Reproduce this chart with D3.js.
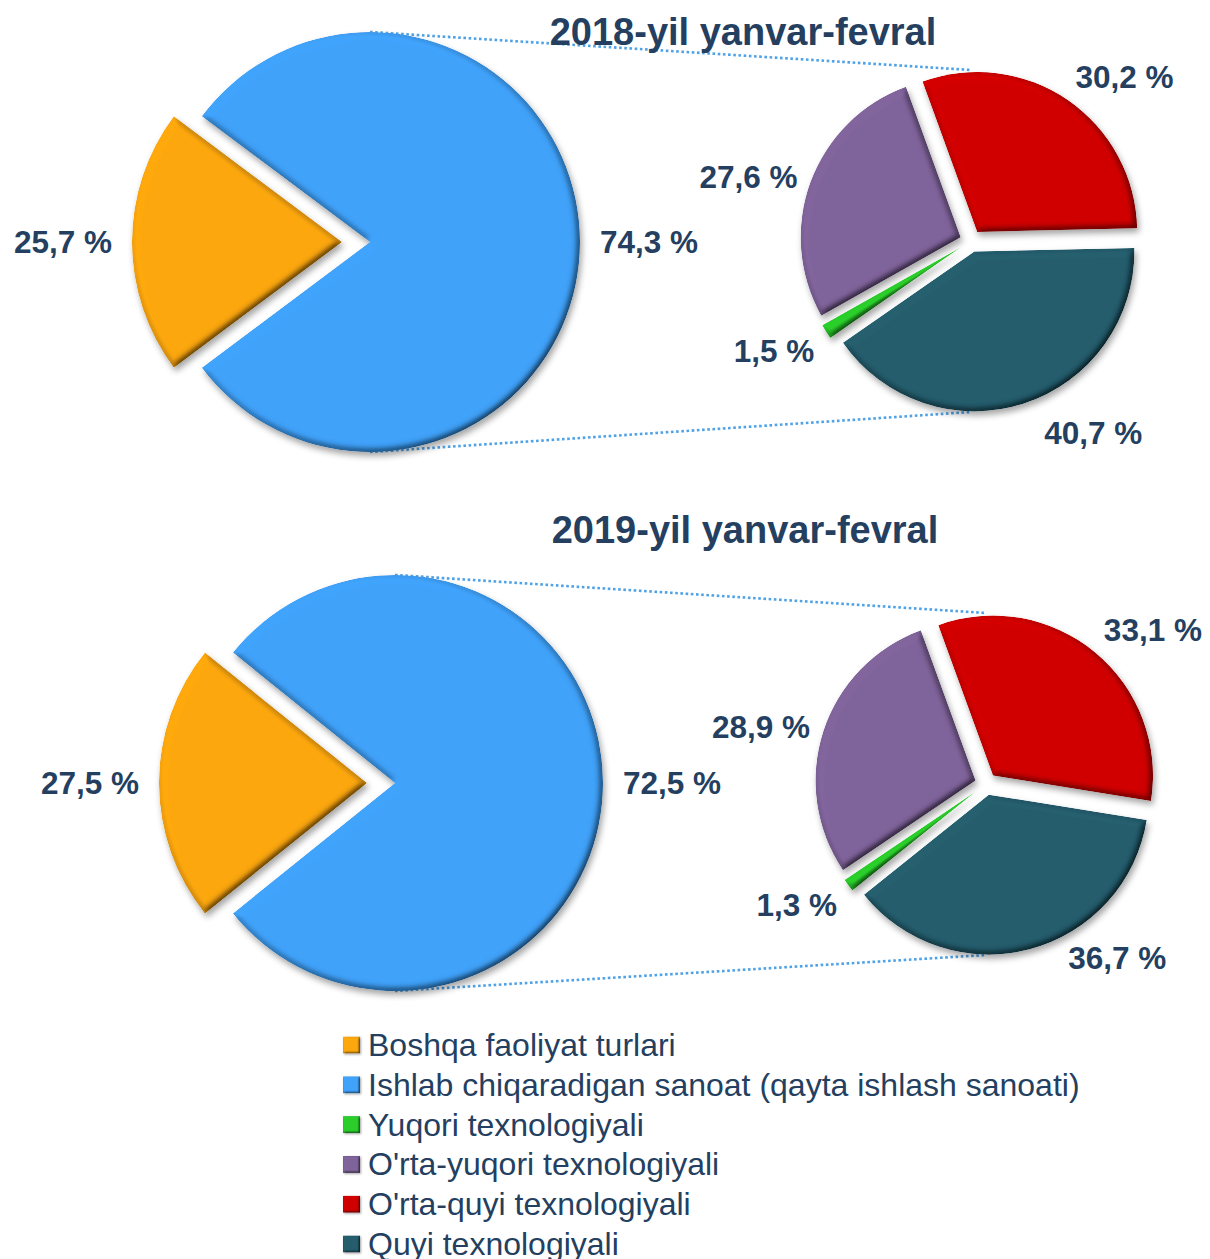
<!DOCTYPE html>
<html>
<head>
<meta charset="utf-8">
<script src="https://cdn.jsdelivr.net/npm/d3@7"></script>
<style>
  html, body { margin: 0; padding: 0; background: #fff; }
  svg { display: block; font-family: "Liberation Sans", Arial, sans-serif; }
</style>
</head>
<body>
<div id="chart"></div>
<script>
/* DATA */
const categories = [
  "Boshqa faoliyat turlari",
  "Ishlab chiqaradigan sanoat (qayta ishlash sanoati)",
  "Yuqori texnologiyali",
  "O'rta-yuqori texnologiyali",
  "O'rta-quyi texnologiyali",
  "Quyi texnologiyali"
];
const catColors = ["#F9A50E", "#3FA0F7", "#2BCB2B", "#7E6299", "#CF0505", "#245C6C"];

const titles = ["2018-yil yanvar-fevral", "2019-yil yanvar-fevral"];
const boshqa = [25.7, 27.5];   // other activities (primary pie)
const ishlab = [74.3, 72.5];   // manufacturing, label on primary pie

// secondary pie, clockwise from the top: O'rta-quyi, Quyi, Yuqori, O'rta-yuqori
const subOrder = [4, 5, 2, 3];
const sub2018 = [30.2, 40.7, 1.5, 27.6];
const sub2019 = [33.1, 36.7, 1.3, 28.9];
const subValues = [sub2018, sub2019];

/* LAYOUT */
const width = 1210, height = 1259;
const panels = [
  { big: { cx: 370, cy: 242, r: 210 }, small: { cx: 971, cy: 241, r: 160 }, titleY: 45, titleX: 743 },
  { big: { cx: 395, cy: 783, r: 208 }, small: { cx: 986, cy: 784, r: 160 }, titleY: 543, titleX: 745 }
];
const explodeBig = 28, explodeSmall = 11;
const smallRotation = -20 * Math.PI / 180;   // first slice of the secondary pie starts here
// "best fit" shifts of the secondary labels, [dx, dy] per slice
const subLabelNudge = [
  [[0, 0], [16, 4], [0, 0], [0, 0]],
  [[0, 0], [35, -17], [0, 0], [0, 0]]
];
const textColor = "#243F60";
const fmt = v => v.toFixed(1).replace(".", ",") + " %";

const svg = d3.select("#chart").append("svg")
  .attr("width", width)
  .attr("height", height)
  .attr("viewBox", `0 0 ${width} ${height}`);

// bevel + shadow filter
const defs = svg.append("defs");
function bevel(id, blur, surf, shadowBlur, dx, dy) {
  const f = defs.append("filter").attr("id", id)
    .attr("x", "-20%").attr("y", "-20%").attr("width", "140%").attr("height", "140%");
  f.append("feGaussianBlur").attr("in", "SourceAlpha").attr("stdDeviation", blur).attr("result", "blur");
  const lt = f.append("feDiffuseLighting").attr("in", "blur").attr("surfaceScale", surf)
    .attr("diffuseConstant", 1.1).attr("lighting-color", "#fff").attr("result", "light");
  lt.append("feDistantLight").attr("azimuth", 225).attr("elevation", 62);
  f.append("feComposite").attr("in", "SourceGraphic").attr("in2", "light")
    .attr("operator", "arithmetic").attr("k1", 1.05).attr("k2", 0).attr("k3", 0).attr("k4", 0).attr("result", "lit");
  f.append("feComposite").attr("in", "lit").attr("in2", "SourceAlpha").attr("operator", "in").attr("result", "litIn");
  f.append("feGaussianBlur").attr("in", "SourceAlpha").attr("stdDeviation", shadowBlur).attr("result", "sb");
  f.append("feOffset").attr("in", "sb").attr("dx", dx).attr("dy", dy).attr("result", "so");
  f.append("feFlood").attr("flood-color", "#000").attr("flood-opacity", 0.35).attr("result", "sc");
  f.append("feComposite").attr("in", "sc").attr("in2", "so").attr("operator", "in").attr("result", "shadow");
  const m = f.append("feMerge");
  m.append("feMergeNode").attr("in", "shadow");
  m.append("feMergeNode").attr("in", "litIn");
}
bevel("bev", 3.5, 6, 3, 2, 4);
bevel("bevSmall", 1.2, 2.5, 1, 1, 1);

function labelAt(g, cx, cy, mid, R, text, fs, nudge) {
  const sx = Math.sin(mid), sy = -Math.cos(mid);
  const px = cx + R * sx + nudge[0], py = cy + R * sy + nudge[1];
  const anchor = sx > 0.2 ? "start" : sx < -0.2 ? "end" : "middle";
  let y = py + 0.36 * fs;
  if (sy > 0.5) y = py + 0.72 * fs;
  else if (sy < -0.5) y = py;
  g.append("text")
    .attr("x", px).attr("y", y)
    .attr("text-anchor", anchor)
    .attr("font-size", fs)
    .attr("font-weight", "bold")
    .attr("fill", textColor)
    .text(text);
}

panels.forEach((p, i) => {
  const g = svg.append("g");
  const sub = subValues[i];
  const subTotal = d3.sum(sub);

  // connector lines (under the pies)
  const conn = g.append("g")
    .attr("stroke", "#4FA2E6")
    .attr("stroke-width", 2.6)
    .attr("stroke-dasharray", "2.6,2.6")
    .attr("fill", "none");
  conn.append("line")
    .attr("x1", p.big.cx).attr("y1", p.big.cy - p.big.r)
    .attr("x2", p.small.cx).attr("y2", p.small.cy - p.small.r - explodeSmall);
  conn.append("line")
    .attr("x1", p.big.cx).attr("y1", p.big.cy + p.big.r)
    .attr("x2", p.small.cx).attr("y2", p.small.cy + p.small.r + explodeSmall);

  // primary pie: other activities vs manufacturing (= sum of the breakdown)
  const primary = [
    { key: 0, v: boshqa[i], label: boshqa[i], explode: explodeBig },
    { key: 1, v: subTotal, label: ishlab[i], explode: 0 }
  ];
  const aOther = 2 * Math.PI * boshqa[i] / (boshqa[i] + subTotal);
  const pieBig = d3.pie().sort(null).value(d => d.v)
    .startAngle(-Math.PI / 2 - aOther / 2)
    .endAngle(3 * Math.PI / 2 - aOther / 2);
  const arcBig = d3.arc().innerRadius(0).outerRadius(p.big.r);

  pieBig(primary).forEach(a => {
    const mid = (a.startAngle + a.endAngle) / 2;
    const ox = p.big.cx + a.data.explode * Math.sin(mid);
    const oy = p.big.cy - a.data.explode * Math.cos(mid);
    g.append("path")
      .attr("d", arcBig(a))
      .attr("transform", `translate(${ox},${oy})`)
      .attr("fill", catColors[a.data.key])
      .attr("filter", "url(#bev)");
    labelAt(g, ox, oy, mid, p.big.r + 20, fmt(a.data.label), 31.5, [0, 0]);
  });

  // secondary pie
  const pieSmall = d3.pie().sort(null)
    .startAngle(smallRotation)
    .endAngle(smallRotation + 2 * Math.PI);
  const arcSmall = d3.arc().innerRadius(0).outerRadius(p.small.r);

  pieSmall(sub).forEach((a, j) => {
    const mid = (a.startAngle + a.endAngle) / 2;
    const ox = p.small.cx + explodeSmall * Math.sin(mid);
    const oy = p.small.cy - explodeSmall * Math.cos(mid);
    g.append("path")
      .attr("d", arcSmall(a))
      .attr("transform", `translate(${ox},${oy})`)
      .attr("fill", catColors[subOrder[j]])
      .attr("filter", "url(#bev)");
    labelAt(g, p.small.cx, p.small.cy, mid, p.small.r + 25, fmt(a.data), 31.5, subLabelNudge[i][j]);
  });

  // title
  g.append("text")
    .attr("x", p.titleX).attr("y", p.titleY)
    .attr("text-anchor", "middle")
    .attr("font-size", 38)
    .attr("font-weight", "bold")
    .attr("fill", textColor)
    .text(titles[i]);
});

/* LEGEND */
const legY = d3.scalePoint().domain(categories).range([1045, 1244]);
const legend = svg.append("g");
const item = legend.selectAll("g.item").data(categories).join("g")
  .attr("class", "item")
  .attr("transform", d => `translate(343,${legY(d)})`);
item.append("rect")
  .attr("x", 0).attr("y", -8.5)
  .attr("width", 17).attr("height", 17)
  .attr("fill", (d, k) => catColors[k])
  .attr("filter", "url(#bevSmall)");
item.append("text")
  .attr("x", 25).attr("y", 11)
  .attr("font-size", 32)
  .attr("fill", textColor)
  .text(d => d);
</script>
</body>
</html>
